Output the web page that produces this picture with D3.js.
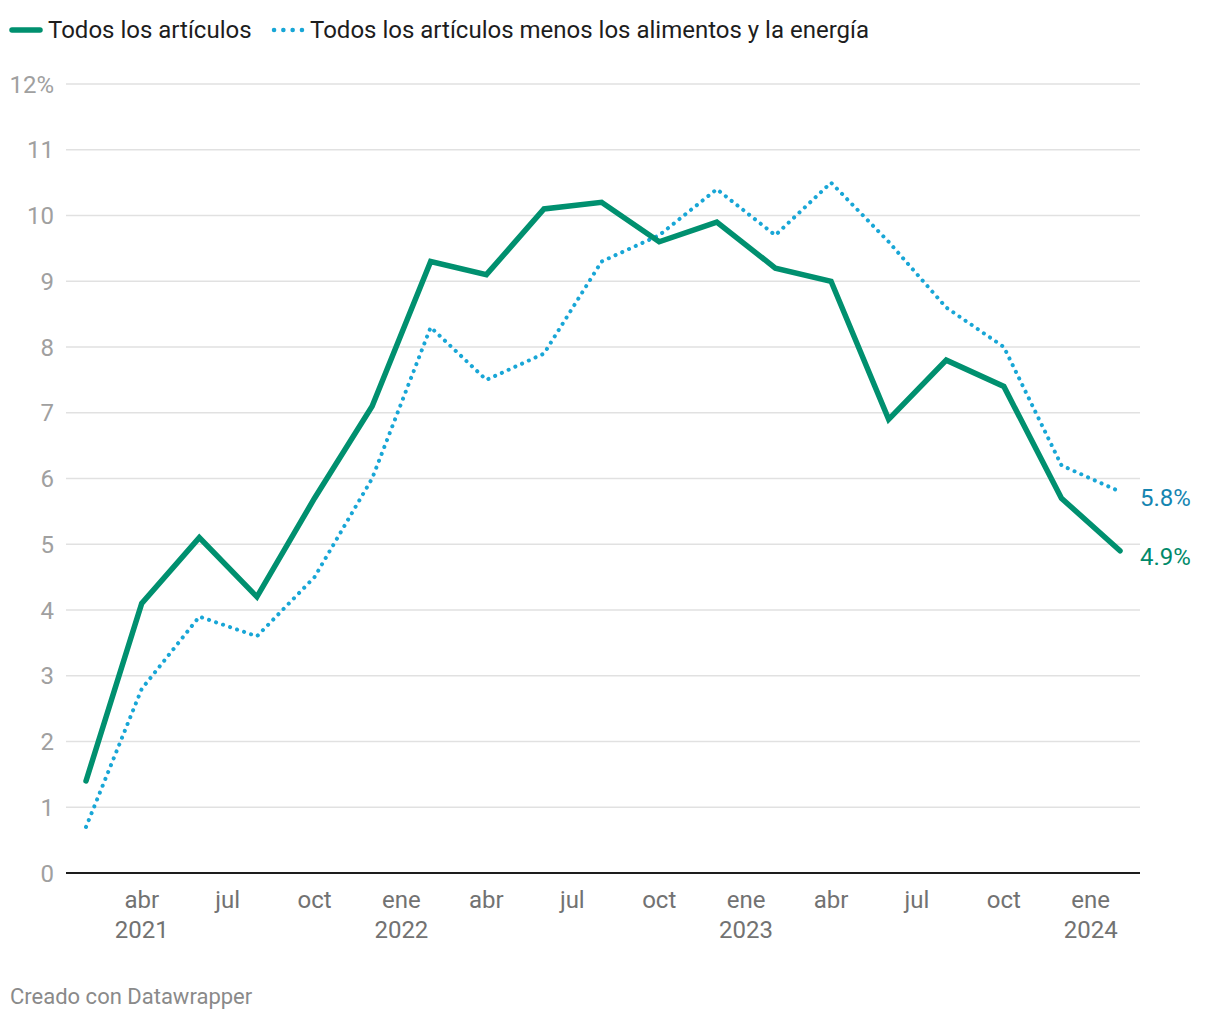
<!DOCTYPE html>
<html><head><meta charset="utf-8">
<script src="https://cdn.jsdelivr.net/npm/d3@7"></script>
<style>
body{margin:0;background:#fff;font-family:Roboto,"Noto Sans",sans-serif;}
</style></head><body>
<svg id="c" width="1220" height="1020"></svg>
<script>
const dates = ["2021-02-01","2021-04-01","2021-06-01","2021-08-01","2021-10-01","2021-12-01",
"2022-02-01","2022-04-01","2022-06-01","2022-08-01","2022-10-01","2022-12-01",
"2023-02-01","2023-04-01","2023-06-01","2023-08-01","2023-10-01","2023-12-01","2024-02-01"];
const todos = [1.4,4.1,5.1,4.2,5.7,7.1,9.3,9.1,10.1,10.2,9.6,9.9,9.2,9.0,6.9,7.8,7.4,5.7,4.9];
const subyacente = [0.7,2.8,3.9,3.6,4.5,6.0,8.3,7.5,7.9,9.3,9.7,10.4,9.7,10.5,9.6,8.6,8.0,6.2,5.8];
const seriesNames = ["Todos los artículos","Todos los artículos menos los alimentos y la energía"];
const yTicks = [0,1,2,3,4,5,6,7,8,9,10,11,12];
const xTickDates = ["2021-04-01","2021-07-01","2021-10-01","2022-01-01","2022-04-01","2022-07-01","2022-10-01","2023-01-01","2023-04-01","2023-07-01","2023-10-01","2024-01-01"];
const monthNames = ["ene","feb","mar","abr","may","jun","jul","ago","sep","oct","nov","dic"];

const GREEN = "#00906f", BLUE = "#18a6d6";
const svg = d3.select("#c");
const parse = d3.utcParse("%Y-%m-%d");
const ds = dates.map(parse);
const x = d3.scaleUtc().domain([ds[0], ds[ds.length-1]]).range([86,1120]);
const y = d3.scaleLinear().domain([0,12]).range([873,84]);

// legend
const lg = svg.append("g");
lg.append("line").attr("x1",12).attr("x2",40).attr("y1",30).attr("y2",30)
  .attr("stroke",GREEN).attr("stroke-width",5.5).attr("stroke-linecap","round");
lg.append("text").attr("x",48).attr("y",38).text(seriesNames[0])
  .attr("font-size",24).attr("fill","#1d1d1d");
lg.append("line").attr("x1",274).attr("x2",302).attr("y1",30).attr("y2",30)
  .attr("stroke",BLUE).attr("stroke-width",4.5).attr("stroke-linecap","round").attr("stroke-dasharray","0.1 9.2");
lg.append("text").attr("x",310).attr("y",38).text(seriesNames[1])
  .attr("font-size",24).attr("fill","#1d1d1d");

// grid
const g = svg.append("g");
g.selectAll("line.grid").data(yTicks.filter(d=>d>0)).join("line")
  .attr("x1",66).attr("x2",1140).attr("y1",d=>y(d)).attr("y2",d=>y(d))
  .attr("stroke","#e1e1e1").attr("stroke-width",1.5);
g.selectAll("text.yl").data(yTicks).join("text")
  .attr("x",54).attr("y",d=>y(d)+8.5).attr("text-anchor","end")
  .attr("font-size",24).attr("fill","#a0a0a0")
  .text(d=>d===12? d+"%" : d);

// x labels
const xt = xTickDates.map(parse);
const xg = svg.append("g");
xt.forEach(d=>{
  xg.append("text").attr("x",x(d)).attr("y",908).attr("text-anchor","middle")
    .attr("font-size",24).attr("fill","#727272").text(monthNames[d.getUTCMonth()]);
  if (d.getUTCMonth()===0 || (d.getUTCFullYear()===2021 && d.getUTCMonth()===3)) {
    xg.append("text").attr("x",x(d)).attr("y",938).attr("text-anchor","middle")
      .attr("font-size",24).attr("fill","#727272").text(d.getUTCFullYear());
  }
});

// baseline
svg.append("line").attr("x1",66).attr("x2",1140).attr("y1",y(0)).attr("y2",y(0))
  .attr("stroke","#1d1d1d").attr("stroke-width",2);

const line = d3.line().x(d=>x(d[0])).y(d=>y(d[1]));
svg.append("path").datum(ds.map((d,i)=>[d,subyacente[i]])).attr("d",line)
  .attr("fill","none").attr("stroke",BLUE).attr("stroke-width",4)
  .attr("stroke-linecap","round").attr("stroke-dasharray","0.1 7.3");
svg.append("path").datum(ds.map((d,i)=>[d,todos[i]])).attr("d",line)
  .attr("fill","none").attr("stroke",GREEN).attr("stroke-width",5.5)
  .attr("stroke-linejoin","miter").attr("stroke-linecap","round");

// end labels
const last = ds.length-1;
svg.append("text").attr("x",1140).attr("y",y(subyacente[last])+14).text(subyacente[last]+"%")
  .attr("font-size",24).attr("fill","#1585b1");
svg.append("text").attr("x",1140).attr("y",y(todos[last])+14).text(todos[last]+"%")
  .attr("font-size",24).attr("fill","#008a6a");

svg.append("text").attr("x",10).attr("y",1004).text("Creado con Datawrapper")
  .attr("font-size",22).attr("fill","#8a8a8a");
</script>
</body></html>
